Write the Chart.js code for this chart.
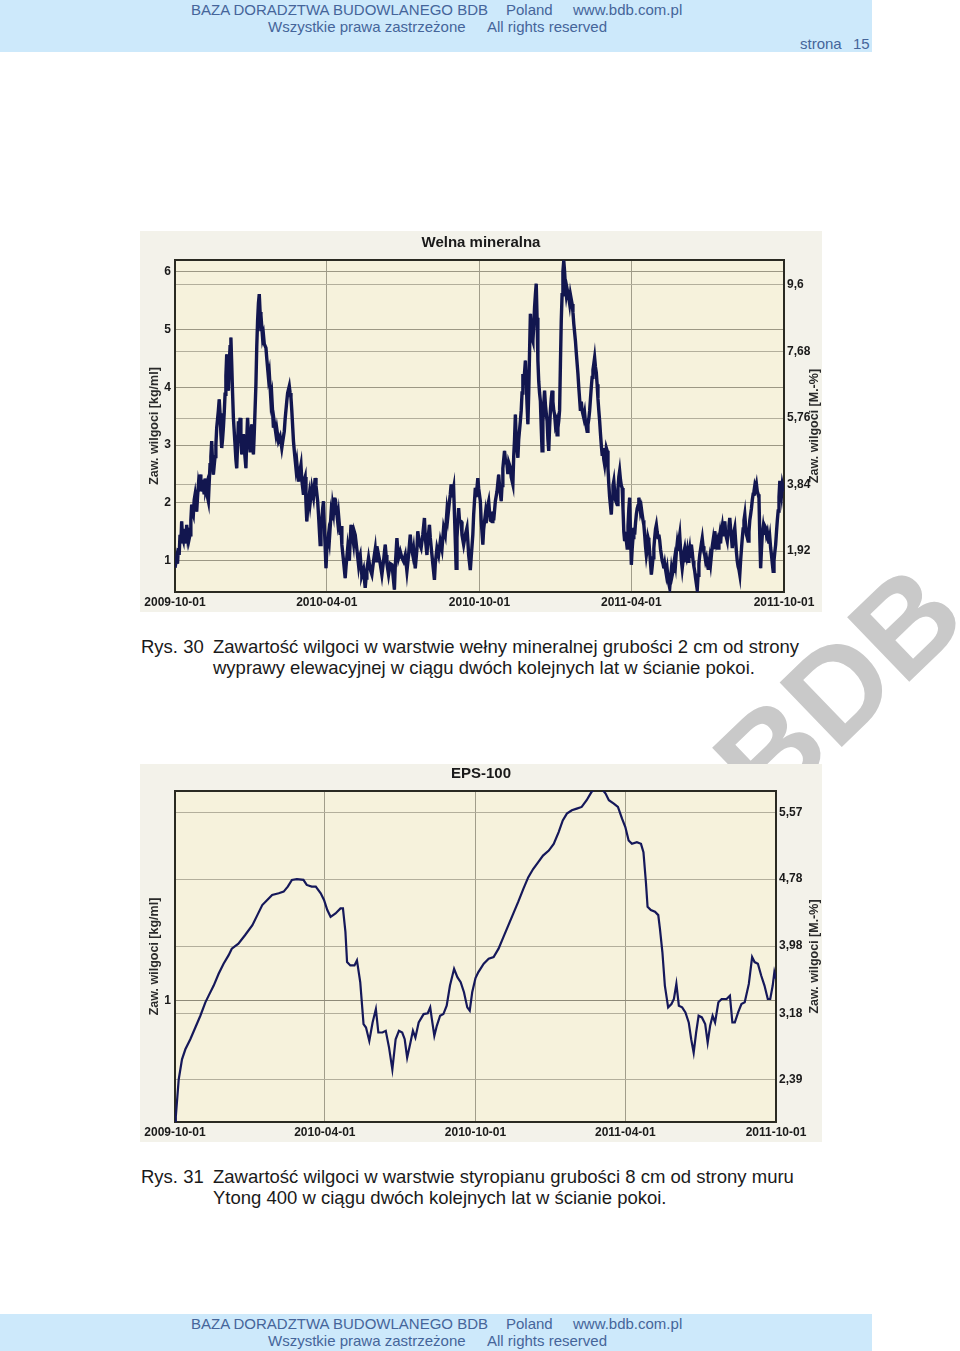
<!DOCTYPE html>
<html>
<head>
<meta charset="utf-8">
<script src="https://cdn.jsdelivr.net/npm/chart.js@4.4.1/dist/chart.umd.min.js"></script>
<style>
  body { margin: 0; background: #fff; }
  #page { position: relative; width: 960px; height: 1351px; overflow: hidden; background: #fff; }
  .band { position: absolute; left: 0; width: 872px; background: #cde9fb; }
  .hdr { position: absolute; font-family: "Liberation Sans Narrow", "Liberation Sans", Arial, sans-serif; font-size: 15px; color: #45659a; white-space: nowrap; line-height: 1; }
  .cap { position: absolute; font-family: "Liberation Sans", Arial, sans-serif; font-size: 18.5px; color: #1a1a1a; white-space: nowrap; line-height: 1; }
  .box { position: absolute; left: 140px; width: 682px; background: #f3f2ea; }
  #wm { position: absolute; left: 838px; top: 688px; transform: translate(-50%, -50%) rotate(-44deg);
        font-family: "Liberation Sans", Arial, sans-serif; font-weight: bold; font-size: 130px; line-height: 1; color: #c9c9c9; white-space: nowrap; }
</style>
</head>
<body>
<div id="page">
  <div class="band" style="top:0;height:52px"></div>
  <div class="hdr" style="left:191px;top:2px">BAZA DORADZTWA BUDOWLANEGO BDB</div>
  <div class="hdr" style="left:506px;top:2px">Poland</div>
  <div class="hdr" style="left:573px;top:2px">www.bdb.com.pl</div>
  <div class="hdr" style="left:268px;top:19px">Wszystkie prawa zastrzeżone</div>
  <div class="hdr" style="left:487px;top:19px">All rights reserved</div>
  <div class="hdr" style="left:800px;top:36px">strona</div>
  <div class="hdr" style="left:853px;top:36px">15</div>

  <div id="wm">BDB</div>

  <div class="box" style="top:231px;height:381px"><canvas id="woolChart" width="682" height="381"></canvas></div>
  <div class="cap" style="left:141px;top:638px">Rys. 30</div>
  <div class="cap" style="left:213px;top:638px">Zawartość wilgoci w warstwie wełny mineralnej grubości 2 cm od strony</div>
  <div class="cap" style="left:213px;top:659px">wyprawy elewacyjnej w ciągu dwóch kolejnych lat w ścianie pokoi.</div>

  <div class="box" style="top:764px;height:378px"><canvas id="epsChart" width="682" height="378"></canvas></div>
  <div class="cap" style="left:141px;top:1168px">Rys. 31</div>
  <div class="cap" style="left:213px;top:1168px">Zawartość wilgoci w warstwie styropianu grubości 8 cm od strony muru</div>
  <div class="cap" style="left:213px;top:1189px">Ytong 400 w ciągu dwóch kolejnych lat w ścianie pokoi.</div>

  <div class="band" style="top:1314px;height:37px"></div>
  <div class="hdr" style="left:191px;top:1316px">BAZA DORADZTWA BUDOWLANEGO BDB</div>
  <div class="hdr" style="left:506px;top:1316px">Poland</div>
  <div class="hdr" style="left:573px;top:1316px">www.bdb.com.pl</div>
  <div class="hdr" style="left:268px;top:1333px">Wszystkie prawa zastrzeżone</div>
  <div class="hdr" style="left:487px;top:1333px">All rights reserved</div>
</div>

<script>
// ===== DATA =====
// x = days since 2009-10-01
const tickDays = [0, 182, 365, 547, 730];
const tickLabels = ['2009-10-01', '2010-04-01', '2010-10-01', '2011-04-01', '2011-10-01'];

// Welna mineralna, moisture [kg/ml], [day, value] per half-year
const woolWinter1 = [
  [0,0.88],[2,1.05],[3,0.95],[4,1.22],[5,1.10],[6,1.45],[7,1.30],[8,1.68],[9,1.40],[10,1.35],[11,1.55],[12,1.42],
  [13,1.30],[14,1.62],[15,1.45],[16,1.57],[17,1.38],[18,1.45],[19,1.70],[20,1.97],[21,1.85],[22,1.80],[23,2.05],
  [24,2.14],[25,2.00],[26,1.85],[27,2.10],[28,2.30],[29,2.20],[30,2.49],[31,2.35],[32,2.20],[33,2.40],[34,2.26],
  [35,2.15],[36,2.42],[37,2.25],[38,2.31],[39,2.10],[40,2.03],[41,2.35],[42,2.66],[43,2.80],[44,3.07],[45,2.70],
  [46,2.49],[47,2.65],[48,2.80],[49,3.00],[50,3.30],[51,3.45],[52,3.60],[53,3.79],[54,3.55],[55,3.20],[56,2.95],
  [57,3.10],[58,3.30],[59,3.55],[60,3.88],[61,4.20],[62,4.57],[63,4.30],[64,3.94],[65,4.40],[66,4.70],[67,4.86],
  [68,4.40],[69,3.90],[70,3.47],[72,3.00],[73,2.75],[74,2.60],[75,3.00],[76,3.41],[77,3.20],[78,3.47],[79,3.10],
  [80,2.84],[81,3.00],[82,3.19],[83,2.95],[85,2.60],[86,3.10],[87,3.47],[88,3.20],[90,2.90],[91,3.15],[92,3.36],
  [93,3.05],[94,2.84],[95,3.20],[97,4.05],[98,4.70],[99,5.15],[100,5.45],[101,5.61],[102,5.30],[103,4.97],
  [104,5.05],[105,4.85],[106,4.91],[107,4.75],[109,4.68],[110,4.50],[112,4.17],[113,4.25],[115,3.76],[116,3.85],
  [118,3.30],[119,3.40],[121,3.19],[122,3.28],[124,3.07],[126,3.15],[128,2.95],[129,3.05],[131,3.24],[132,3.45],
  [134,3.76],[135,3.90],[137,4.02],[138,3.90],[139,3.82],[140,3.60],[142,3.07],[143,2.90],[145,2.60],[146,2.70],
  [148,2.37],[149,2.50],[151,2.66],[152,2.40],[154,2.14],[155,2.40],[156,2.45],[157,2.00],[158,1.68],[159,1.90],
  [161,2.14],[162,2.00],[164,2.26],[166,2.10],[168,2.43],[169,2.30],[171,2.03],[172,1.80],[174,1.28],[175,1.60],
  [176,1.70],[177,1.90],[178,2.03],[179,1.60],[181,0.87]
];
const woolSummer1 = [
  [182,1.20],[184,1.45],[185,1.35],[187,1.80],[188,1.70],[189,1.95],[190,1.85],[191,2.09],[192,1.90],[193,1.95],
  [195,1.68],[196,1.80],[198,1.45],[199,1.60],[200,1.28],[202,1.00],[204,0.70],[205,0.90],[207,1.22],[208,1.10],
  [209,1.00],[210,1.35],[211,1.62],[212,1.50],[214,1.30],[215,1.50],[216,1.45],[218,1.20],[220,0.93],[221,1.05],
  [222,1.10],[223,0.90],[224,0.75],[226,0.85],[228,0.53],[229,0.70],[230,0.85],[231,0.95],[232,1.05],[234,0.85],
  [236,0.76],[238,1.00],[240,1.20],[241,1.00],[242,1.25],[244,1.10],[246,0.95],[248,0.76],[250,1.00],[252,1.28],
  [253,1.10],[254,0.95],[256,0.76],[258,0.95],[260,0.93],[261,0.80],[263,0.50],[264,0.90],[266,1.39],[267,1.20],
  [268,1.05],[270,1.16],[272,1.05],[274,0.99],[276,1.10],[278,0.82],[280,1.10],[282,1.45],[283,1.25],[285,1.10],
  [286,1.20],[288,0.87],[290,1.20],[291,1.51],[293,1.30],[295,1.22],[297,1.45],[299,1.74],[300,1.40],[302,1.10],
  [303,1.35],[305,1.62],[306,1.40],[308,1.10],[309,0.95],[311,0.67],[312,0.95],[314,1.22],[316,1.10],[318,1.34],
  [320,1.20],[322,1.57],[324,1.45],[326,1.86],[327,1.75],[329,2.03],[330,2.15],[331,2.32],[332,2.10],[334,2.26],
  [335,1.80],[337,0.87],[338,1.40],[340,1.91],[341,1.70],[343,1.68],[344,1.45],[346,1.28],[348,1.45],[350,1.57],
  [351,1.35],[352,1.10],[354,0.84],[355,1.05],[357,1.45],[358,1.80],[360,2.26],[361,2.10],[363,2.43],[364,2.25]
];
const woolWinter2 = [
  [366,2.03],[367,1.70],[369,1.28],[370,1.55],[372,1.80],[373,1.65],[374,1.90],[376,2.03],[377,1.85],[378,1.70],
  [380,1.68],[381,1.85],[382,1.70],[384,2.03],[386,2.20],[388,2.49],[389,2.30],[391,2.03],[392,2.30],[393,2.60],
  [395,2.90],[396,2.75],[398,2.66],[399,2.50],[400,2.70],[402,2.61],[403,2.45],[405,2.32],[406,2.80],[407,3.10],
  [408,3.53],[409,3.10],[410,2.95],[411,2.78],[412,3.10],[414,3.42],[415,3.60],[416,3.90],[417,4.23],[418,4.05],
  [420,4.46],[421,4.10],[422,3.70],[423,3.36],[424,3.90],[425,4.60],[426,5.27],[427,5.00],[428,4.85],[429,4.80],
  [430,5.05],[431,5.38],[432,5.60],[433,5.79],[434,5.20],[435,4.46],[436,4.10],[437,3.90],[438,3.76],[439,3.30],
  [440,2.90],[441,3.40],[442,3.70],[443,3.94],[444,3.70],[445,3.55],[446,3.42],[447,3.10],[448,2.90],[449,3.30],
  [450,3.60],[451,3.80],[452,3.94],[453,3.75],[454,3.60],[455,3.53],[456,3.35],[457,3.40],[458,3.18],[459,3.30],
  [460,3.42],[461,3.60],[462,4.40],[463,5.15],[464,5.60],[465,6.00],[466,6.19],[467,6.00],[468,5.73],[469,5.60],
  [470,5.70],[472,5.55],[473,5.45],[474,5.60],[476,5.44],[477,5.30],[478,5.10],[480,4.80],[481,4.60],[483,4.23],
  [484,4.00],[485,3.80],[486,3.59],[487,3.75],[488,3.60],[490,3.47],[491,3.55],[492,3.40],[494,3.24],[495,3.35],
  [496,3.45],[497,3.59],[498,3.80],[499,4.00],[500,4.17],[501,4.30],[502,4.40],[503,4.51],[504,4.35],[505,4.25],
  [506,4.05],[507,3.80],[508,3.60],[509,3.42],[510,3.20],[511,3.00],[512,2.84],[513,2.95],[514,2.75],[515,2.66],
  [516,2.80],[517,2.95],[518,2.90],[519,2.60],[520,2.32],[521,2.10],[522,1.95],[523,1.80],[524,2.10],[525,2.30],
  [526,2.38],[527,2.20],[528,2.05],[530,1.97],[531,2.25],[532,2.45],[533,2.55],[534,2.40],[535,2.30],[536,2.26],
  [537,1.90],[538,1.50],[539,1.34],[540,1.50],[541,1.35],[542,1.22],[543,1.60],[544,1.90],[545,2.09],[546,1.50]
];
const woolSummer2 = [
  [547,0.93],[548,1.20],[549,1.40],[550,1.57],[551,1.45],[552,1.65],[553,1.80],[554,1.90],[555,1.95],[556,2.09],
  [557,2.00],[558,1.85],[559,1.91],[560,1.80],[561,1.70],[562,1.62],[563,1.45],[564,1.25],[565,1.10],[566,1.20],
  [567,1.40],[568,1.34],[569,1.15],[570,0.95],[571,0.76],[572,0.90],[573,1.05],[574,1.22],[575,1.40],[576,1.55],
  [577,1.62],[578,1.50],[579,1.40],[580,1.45],[581,1.35],[582,1.20],[583,1.10],[584,1.00],[585,0.95],[586,0.87],
  [587,0.95],[588,0.85],[589,0.76],[590,0.85],[591,0.70],[592,0.60],[593,0.53],[594,0.70],[595,0.85],[596,0.75],
  [597,0.82],[598,0.95],[599,1.05],[600,0.95],[601,1.16],[602,1.30],[603,1.20],[604,1.35],[605,1.45],[606,1.20],
  [607,1.00],[608,0.87],[609,1.00],[610,1.15],[611,1.22],[612,1.10],[613,1.05],[614,1.15],[615,0.99],[616,1.10],
  [617,1.20],[618,1.05],[619,1.28],[620,1.15],[621,1.00],[622,0.90],[623,0.82],[624,0.70],[625,0.60],[626,0.50],
  [627,0.75],[628,0.95],[629,1.10],[630,1.20],[631,1.30],[632,1.39],[633,1.25],[634,1.15],[635,1.10],[636,1.00],
  [637,1.05],[638,0.95],[639,0.87],[640,0.95],[641,1.05],[642,0.95],[643,1.10],[644,1.25],[645,1.35],[646,1.20],
  [647,1.51],[648,1.40],[649,1.30],[650,1.35],[651,1.22],[652,1.35],[653,1.45],[654,1.30],[655,1.51],[656,1.60],
  [657,1.45],[658,1.55],[659,1.68],[660,1.50],[661,1.40],[662,1.34],[663,1.50],[664,1.60],[665,1.74],[666,1.55],
  [667,1.40],[668,1.22],[669,1.40],[670,1.50],[671,1.57],[672,1.35],[673,1.15],[674,0.99],[675,0.90],[676,0.85],
  [677,0.76],[678,1.00],[679,1.20],[680,1.39],[681,1.55],[682,1.70],[683,1.80],[684,1.60],[685,1.45],[686,1.40],
  [687,1.34],[688,1.50],[689,1.70],[690,1.80],[691,1.91],[692,2.05],[693,2.15],[694,2.20],[695,2.30],[696,2.25],
  [697,2.32],[698,2.20],[699,2.15],[700,2.09],[701,1.40],[702,0.87],[703,1.20],[704,1.45],[705,1.57],[706,1.45],
  [707,1.60],[708,1.57],[709,1.45],[710,1.50],[711,1.39],[712,1.30],[713,1.40],[714,1.22],[715,1.10],[716,0.95],
  [717,0.82],[718,1.00],[719,1.15],[720,1.28],[721,1.50],[722,1.70],[723,1.86],[724,2.10],[725,2.38],[726,2.25],
  [727,2.14],[728,2.32],[729,2.25],[730,2.20]
];

// EPS-100, moisture [M.-%]
const epsDays = [
  0, 1, 4.5, 8.5, 12.6, 18.6, 24.7, 30.8, 36.9, 40.9, 47, 53, 59, 65, 69, 77, 85, 94, 100, 106, 112, 118, 126, 132,
  137, 142, 148, 156, 160, 166, 171, 177, 181, 185, 189, 195, 201, 204, 207, 209, 213, 218, 221, 225, 229, 232, 236,
  240, 244, 247, 252, 256, 260, 264, 268, 272, 276, 279, 282, 286, 289, 292, 296, 302, 307, 310, 312, 315, 318, 322,
  326, 330, 334, 339, 343, 347, 351, 355, 358, 361, 365, 368.5, 375, 381, 387, 393, 399, 405, 411, 417, 423, 429,
  435, 441, 447, 454, 460, 466, 471, 476, 482, 488, 494, 500, 506, 511, 518, 523, 527, 533, 538, 543, 547, 551, 555,
  561, 566, 569, 572, 574, 578, 583, 587, 589, 592, 595, 599, 603, 606, 609, 612, 616, 620, 624, 627, 630, 633, 636,
  640, 644, 647, 650, 653, 656, 660, 664, 670, 674, 677, 680, 684, 688, 692, 697, 701, 704, 708, 712, 716, 720, 723,
  726, 728, 730
];
const epsValues = [
  1.88, 1.95, 2.39, 2.63, 2.75, 2.87, 3.01, 3.15, 3.31, 3.39, 3.51, 3.65, 3.77, 3.87, 3.95, 4.01, 4.11, 4.23, 4.35, 4.47, 4.53, 4.59, 4.61, 4.63,
  4.69, 4.77, 4.78, 4.77, 4.71, 4.69, 4.69, 4.61, 4.53, 4.41, 4.33, 4.37, 4.43, 4.43, 4.15, 3.79, 3.75, 3.75, 3.81, 3.55, 3.05, 3.01, 2.85,
  3.07, 3.23, 2.95, 2.95, 2.97, 2.77, 2.51, 2.87, 2.97, 2.95, 2.87, 2.65, 2.83, 2.97, 2.89, 3.07, 3.17, 3.18, 3.25, 3.11, 2.91, 3.03, 3.15,
  3.17, 3.27, 3.51, 3.71, 3.61, 3.55, 3.43, 3.25, 3.21, 3.43, 3.60, 3.67, 3.77, 3.83, 3.85, 3.95, 4.09, 4.23, 4.37, 4.51, 4.66, 4.80,
  4.90, 4.98, 5.06, 5.12, 5.20, 5.34, 5.48, 5.56, 5.60, 5.62, 5.64, 5.72, 5.82, 5.86, 5.86, 5.80, 5.72, 5.68, 5.64, 5.50, 5.40, 5.24, 5.20,
  5.22, 5.20, 5.10, 4.74, 4.45, 4.41, 4.39, 4.35, 4.19, 3.91, 3.51, 3.25, 3.29, 3.35, 3.53, 3.27, 3.25, 3.19, 3.07, 2.87, 2.71, 2.95, 3.15,
  3.13, 3.05, 2.83, 3.03, 3.15, 3.07, 3.31, 3.35, 3.35, 3.39, 3.07, 3.07, 3.19, 3.29, 3.31, 3.53, 3.85, 3.79, 3.77, 3.63, 3.51, 3.35, 3.35,
  3.51, 3.67, 3.59
];

// axis ticks
const woolLeftTicks = [1, 2, 3, 4, 5, 6];
const woolRightTicks = [1.92, 3.84, 5.76, 7.68, 9.6];
const epsLeftTicks = [1];
const epsRightTicks = [2.39, 3.18, 3.98, 4.78, 5.57];

// ===== HELPERS =====
const FONT = '"Liberation Sans", Arial, sans-serif';
const comma = v => String(v).replace('.', ',');

const chartBg = {
  id: 'chartBg',
  beforeDraw(chart) {
    const { ctx, chartArea: a } = chart;
    ctx.save();
    ctx.fillStyle = '#f3f2ea';
    ctx.fillRect(0, 0, chart.width, chart.height);
    ctx.fillStyle = '#f6f2dc';
    ctx.fillRect(a.left, a.top, a.right - a.left, a.bottom - a.top);
    ctx.restore();
  },
  beforeDatasetsDraw(chart) {
    const { ctx, chartArea: a } = chart;
    ctx.save();
    ctx.strokeStyle = '#2a2a22';
    ctx.lineWidth = 2;
    ctx.strokeRect(a.left, a.top, a.right - a.left, a.bottom - a.top);
    ctx.restore();
  },
  afterDraw(chart, args, opts) {
    const { ctx, chartArea: a } = chart;
    const cy = (a.top + a.bottom) / 2;
    ctx.save();
    ctx.fillStyle = '#2a2a2a';
    ctx.font = 'bold 12.5px ' + FONT;
    ctx.textAlign = 'center';
    ctx.textBaseline = 'middle';
    [[opts.leftX, opts.leftTitle], [opts.rightX, opts.rightTitle]].forEach(([x, t]) => {
      ctx.save();
      ctx.translate(x, cy);
      ctx.rotate(-Math.PI / 2);
      ctx.fillText(t, 0, 0);
      ctx.restore();
    });
    ctx.restore();
  }
};

function makeChart(id, cfg) {
  const tickFont = { family: FONT, size: 12, weight: 'bold' };
  return new Chart(document.getElementById(id), {
    type: 'line',
    data: { datasets: cfg.datasets },
    options: {
      responsive: false,
      animation: false,
      layout: { padding: 0 },
      plugins: {
        legend: { display: false },
        tooltip: { enabled: false },
        title: {
          display: true,
          text: cfg.title,
          color: '#1a1a1a',
          font: { family: FONT, size: 15, weight: 'bold' },
          padding: cfg.titlePad
        },
        chartBg: {
          leftX: 15, rightX: 675,
          leftTitle: 'Zaw. wilgoci [kg/ml]',
          rightTitle: 'Zaw. wilgoci [M.-%]'
        }
      },
      scales: {
        x: {
          type: 'linear', min: 0, max: 730,
          afterBuildTicks: s => { s.ticks = tickDays.map(v => ({ value: v })); },
          afterFit: s => { s.height = 20; },
          ticks: {
            autoSkip: false, maxRotation: 0, padding: 3, color: '#1a1a1a', font: tickFont,
            callback: (v, i) => tickLabels[i]
          },
          grid: { color: '#a19d8a', lineWidth: 1, drawTicks: false },
          border: { display: false }
        },
        y: {
          position: 'left', min: cfg.leftMin, max: cfg.leftMax,
          afterBuildTicks: s => { s.ticks = cfg.leftTicks.map(v => ({ value: v })); },
          afterFit: s => { s.width = 35; },
          ticks: { padding: 4, color: '#1a1a1a', font: tickFont, callback: v => comma(v) },
          grid: { color: cfg.leftGrid, lineWidth: 1, drawTicks: false },
          border: { display: false }
        },
        y1: {
          position: 'right', min: cfg.rightMin, max: cfg.rightMax,
          afterBuildTicks: s => { s.ticks = cfg.rightTicks.map(v => ({ value: v })); },
          afterFit: s => { s.width = cfg.rightWidth; },
          ticks: { padding: 3, color: '#1a1a1a', font: tickFont, callback: v => comma(v) },
          grid: { color: '#b3af9c', lineWidth: 1, drawTicks: false },
          border: { display: false }
        }
      }
    },
    plugins: [chartBg]
  });
}

// ===== WELNA MINERALNA =====
const woolPoints = [...woolWinter1, ...woolSummer1, ...woolWinter2, ...woolSummer2].map(([x, y]) => ({ x, y }));
makeChart('woolChart', {
  title: 'Welna mineralna',
  titlePad: { top: 3, bottom: 8 },
  datasets: [
    { data: woolPoints, yAxisID: 'y', borderColor: '#12164f', borderWidth: 3.4, pointRadius: 0, tension: 0 },
    { data: woolPoints, yAxisID: 'y', borderColor: '#2c36a3', borderWidth: 1.3, pointRadius: 0, tension: 0 }
  ],
  leftMin: 0.46, leftMax: 6.2, leftTicks: woolLeftTicks, leftGrid: '#9c9884',
  rightMin: 0.74, rightMax: 10.32, rightTicks: woolRightTicks, rightWidth: 38
});

// ===== EPS-100 =====
makeChart('epsChart', {
  title: 'EPS-100',
  titlePad: { top: 1, bottom: 8 },
  datasets: [
    { data: epsDays.map((d, i) => ({ x: d, y: epsValues[i] })), yAxisID: 'y1',
      borderColor: '#15185a', borderWidth: 2.2, pointRadius: 0, tension: 0 }
  ],
  leftMin: 0.5646, leftMax: 1.748, leftTicks: epsLeftTicks, leftGrid: '#8e8a78',
  rightMin: 1.883, rightMax: 5.83, rightTicks: epsRightTicks, rightWidth: 46
});
</script>
</body>
</html>
